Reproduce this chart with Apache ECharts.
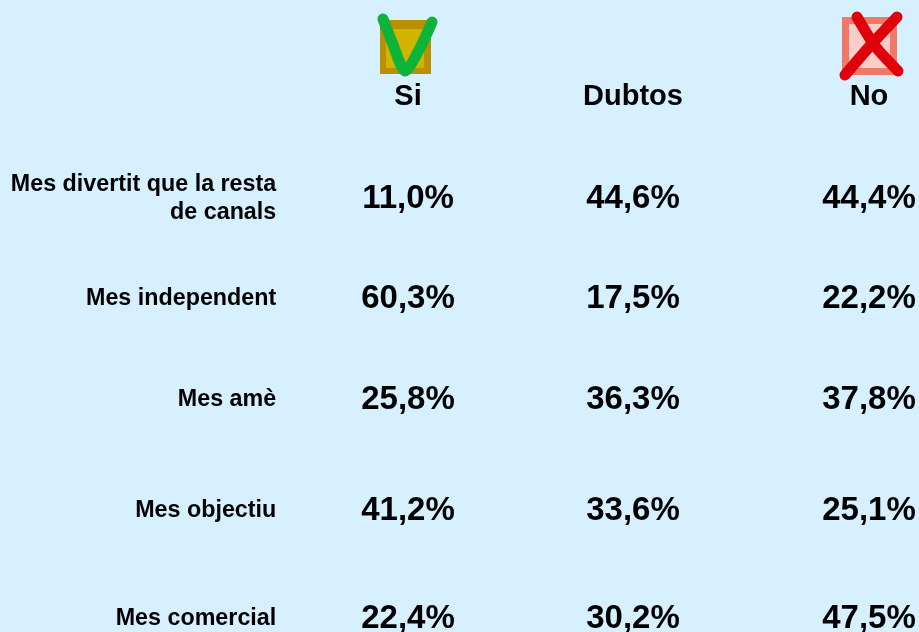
<!DOCTYPE html>
<html><head><meta charset="utf-8">
<style>html,body{margin:0;padding:0;background:#d6f0ff}#c{width:919px;height:632px}</style>
<script src="https://cdn.jsdelivr.net/npm/echarts@6/dist/echarts.min.js"></script>
</head><body><div id="c"></div>
<script>
const columns = ['Si','Dubtos','No'];
const rows = ['Mes divertit que la resta\nde canals','Mes independent','Mes amè','Mes objectiu','Mes comercial'];
const si = [11.0,60.3,25.8,41.2,22.4];
const dubtos = [44.6,17.5,36.3,33.6,30.2];
const no = [44.4,22.2,37.8,25.1,47.5];
// layout nudges (px): the original table's rows/columns are not evenly spaced
const rowNudge = [0,-5,-9,-3,0];
const colNudge = [0,-5.5,0];
const FONT = '"Liberation Sans", Arial, sans-serif';
const chart = echarts.init(document.getElementById('c'),null,{renderer:'canvas'});
const rowRich = {};
rowNudge.forEach((n,i)=>{rowRich['r'+i]={fontFamily:FONT,fontWeight:'bold',fontSize:23.3,lineHeight:28,color:'#000',align:'right',padding:[0,0,Math.max(0,-2*n),0]};});
const colRich = {};
colNudge.forEach((n,i)=>{colRich['c'+i]={fontFamily:FONT,fontWeight:'bold',fontSize:29,color:'#000',padding:[0,Math.max(0,-2*n),0,0]};});
const valueLabel = {show:true,position:'inside',fontFamily:FONT,fontWeight:'bold',fontSize:33,color:'#000',
    textBorderWidth:0,textBorderColor:'transparent',
    formatter:p=>p.data.raw.toFixed(1).replace('.',',')+'%'};
const mkSeries = (name,vals,c)=>({
  name,type:'scatter',symbolSize:1,itemStyle:{color:'rgba(0,0,0,0)',opacity:1},silent:true,
  data:vals.map((v,r)=>({value:[columns[c],rows[r]],raw:v,
    label:{...valueLabel,offset:[colNudge[c],rowNudge[r]]}})),
  label:valueLabel
});
const stroke=(points,color,w)=>({type:'polyline',shape:{points,smooth:0.25},style:{stroke:color,lineWidth:w,fill:null,lineCap:'round',lineJoin:'round'}});
const box=(x,y,w,h,fill)=>({type:'rect',shape:{x,y,width:w,height:h},style:{fill}});
chart.setOption({
  animation:false,
  backgroundColor:'#d6f0ff',
  grid:{left:292.75,top:146,width:691.5,height:525,containLabel:false,outerBoundsMode:'none'},
  xAxis:{type:'category',position:'top',data:columns,
    axisLine:{show:false},axisTick:{show:false},splitLine:{show:false},
    axisLabel:{interval:0,margin:35,hideOverlap:false,
      formatter:(v,i)=>`{c${i}|${v}}`,rich:colRich}},
  yAxis:{type:'category',inverse:true,data:rows,
    axisLine:{show:false},axisTick:{show:false},splitLine:{show:false},
    axisLabel:{interval:0,margin:16.5,hideOverlap:false,
      formatter:(v,i)=>v.split('\n').map(s=>`{r${i}|${s}}`).join('\n'),rich:rowRich}},
  series:[mkSeries('Si',si,0),mkSeries('Dubtos',dubtos,1),mkSeries('No',no,2)],
  graphic:[
    box(380,20,51,54,'#bb9000'),box(386,29,38,39,'#d0b400'),
    stroke([[383,19],[392,42],[405,71],[420,48],[432,22]],'#0db33a',11),
    box(842,17,55,58,'#f07868'),box(849,24,41,44,'#fbcdc8'),
    stroke([[857,17],[875,46],[898,71]],'#e0000c',11),
    stroke([[897,17],[870,46],[845,75]],'#e0000c',11)
  ]
});
</script></body></html>
